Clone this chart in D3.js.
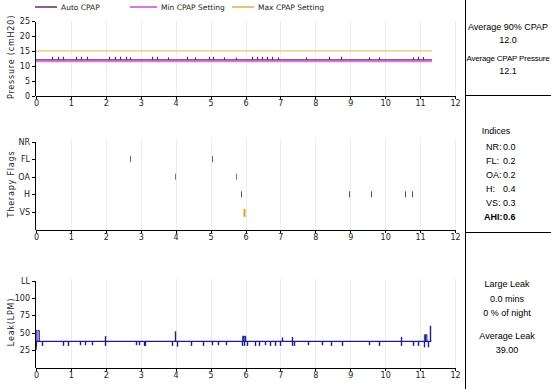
<!DOCTYPE html>
<html>
<head>
<meta charset="utf-8">
<script src="https://cdn.jsdelivr.net/npm/d3@7"></script>
<style>
  body { margin: 0; background: #fff; }
  svg { display: block; }
  .axis text { font-family: "DejaVu Sans", Verdana, sans-serif; font-size: 8px; fill: #222; }
  .axis path, .axis line { stroke: #000; shape-rendering: crispEdges; }
  .side { font-family: "Liberation Sans", Tahoma, sans-serif; font-size: 9px; fill: #000; }
</style>
</head>
<body>
<script>
// pressure panel
var pressureEnd = 11.34;
var autoBase = 12.0;
var minSetting = 11.7;
var maxSetting = 15.0;
var autoSpikeTimes = [0.45, 0.62, 0.77, 1.14, 1.28, 1.47, 2.10, 2.26, 2.41, 2.57, 2.69, 3.31, 3.46, 3.79,
    4.33, 4.55, 4.96, 5.06, 5.39, 5.72, 6.18, 6.32, 6.46, 6.61, 6.75, 6.93, 7.74, 8.38, 8.73, 9.54, 9.81,
    10.79, 10.95, 11.08];
var autoSpikeValues = [13, 13, 13, 13, 13, 13, 13, 13, 13, 13, 12.8, 13, 13, 12.8,
    13, 12.8, 13, 13, 12.8, 12.7, 13, 13, 13, 13, 13, 12.8, 12.8, 13, 13, 12.8, 12.8,
    12.8, 13, 12.9];

// therapy flags panel
var flagNames = ["VS", "H", "OA", "FL", "NR"];
var flagTimes = [2.69, 5.05, 3.98, 5.72, 5.87, 8.97, 9.59, 10.57, 10.76, 5.97];
var flagTypes = ["FL", "FL", "OA", "OA", "H", "H", "H", "H", "H", "VS"];
var flagColors = { NR: "#444", FL: "#b04a4a", OA: "#5c8a5c", H: "#4a4a9a", VS: "#e8a020" };

// leak panel
var leakEnd = 11.32;
var leakBase = 37.5;
var leakDipTimes = [0.16, 0.78, 0.92, 1.26, 1.40, 1.59, 1.99, 2.85, 2.95, 3.10, 3.13, 3.89, 4.03, 4.43, 4.79,
    5.05, 5.22, 5.43, 5.89, 5.96, 6.03, 6.27, 6.40, 6.56, 6.70, 6.85, 6.99, 7.33, 7.40, 7.78, 8.19,
    8.44, 8.76, 9.55, 9.83, 10.45, 10.81, 10.95, 11.10, 11.22];
var leakDipValues = [31, 31, 31, 32, 32, 32, 31, 32, 32, 31, 31, 31, 30, 31, 31,
    32, 32, 32, 31, 31, 31, 31, 31, 32, 31, 31, 31, 31, 31, 32, 32,
    31, 31, 32, 31, 31, 31, 31, 29, 29];
var leakSpikeTimes = [1.97, 3.98, 5.93, 5.99, 7.04, 7.33, 10.45, 11.15, 11.27];
var leakSpikeValues = [45, 52, 45, 45, 43, 44, 44, 47, 60];
var leakBoxStart = [0.0, 5.92, 11.12];
var leakBoxEnd = [0.1, 6.0, 11.2];
var leakBoxValues = [53, 45, 47];

var hourTicks = d3.range(0, 13);

var svg = d3.select("body").append("svg")
    .attr("width", 551)
    .attr("height", 389);

svg.append("rect").attr("width", 551).attr("height", 389).attr("fill", "#fff");

var x = d3.scaleLinear().domain([0, 12]).range([36, 455]);

function grid(y0, y1) {
    svg.append("g").selectAll("line")
        .data(hourTicks.slice(1))
        .enter().append("line")
        .attr("x1", function (d) { return Math.round(x(d)) + 0.5; })
        .attr("x2", function (d) { return Math.round(x(d)) + 0.5; })
        .attr("y1", y0)
        .attr("y2", y1)
        .attr("stroke", "#ececec");
}

function xAxis(yPos) {
    svg.append("g")
        .attr("class", "axis")
        .attr("transform", "translate(0," + yPos + ")")
        .call(d3.axisBottom(x).tickValues(hourTicks).tickSize(3).tickSizeOuter(0).tickPadding(2));
}

function yLabel(text, cy) {
    svg.append("text")
        .attr("transform", "translate(14," + cy + ") rotate(-90)")
        .attr("text-anchor", "middle")
        .style("font-family", "DejaVu Sans, Verdana, sans-serif")
        .style("font-size", "8px")
        .style("letter-spacing", "0.8px")
        .style("fill", "#222")
        .text(text);
}

// ---------- pressure ----------
var yP = d3.scaleLinear().domain([0, 25]).range([95.5, 21]);
grid(21, 95);

svg.append("line")
    .attr("x1", x(0)).attr("x2", x(pressureEnd))
    .attr("y1", yP(maxSetting)).attr("y2", yP(maxSetting))
    .attr("stroke", "#e8c27a").attr("stroke-width", 1.2);

svg.append("line")
    .attr("x1", x(0)).attr("x2", x(pressureEnd))
    .attr("y1", yP(minSetting)).attr("y2", yP(minSetting))
    .attr("stroke", "#d77ad7").attr("stroke-width", 3);

svg.append("line")
    .attr("x1", x(0)).attr("x2", x(pressureEnd))
    .attr("y1", yP(autoBase)).attr("y2", yP(autoBase))
    .attr("stroke", "#8a3a8a").attr("stroke-width", 1);

svg.append("g").selectAll("line")
    .data(autoSpikeTimes)
    .enter().append("line")
    .attr("x1", function (d) { return Math.round(x(d)) + 0.5; })
    .attr("x2", function (d) { return Math.round(x(d)) + 0.5; })
    .attr("y1", yP(autoBase))
    .attr("y2", function (d, i) { return yP(autoSpikeValues[i]); })
    .attr("stroke", "#5a2a5a").attr("stroke-width", 1.2);

svg.append("g")
    .attr("class", "axis")
    .attr("transform", "translate(35,0)")
    .call(d3.axisLeft(yP).tickValues([0, 5, 10, 15, 20, 25]).tickSize(3).tickSizeOuter(0).tickPadding(2));
xAxis(95.5);
yLabel("Pressure (cmH20)", 57);

// legend
var legendNames = ["Auto CPAP", "Min CPAP Setting", "Max CPAP Setting"];
var legendColors = ["#8e5c8e", "#e070e0", "#e8c27a"];
var legendX = [35, 130, 232];
var legendW = [22, 27, 22];
var lg = svg.append("g").selectAll("g")
    .data(legendNames)
    .enter().append("g")
    .attr("transform", function (d, i) { return "translate(" + legendX[i] + ",7)"; });
lg.append("line")
    .attr("x1", 0).attr("x2", function (d, i) { return legendW[i]; })
    .attr("stroke", function (d, i) { return legendColors[i]; })
    .attr("stroke-width", 2);
lg.append("text")
    .attr("x", function (d, i) { return legendW[i] + 4; })
    .attr("dy", "0.35em")
    .style("font-family", "DejaVu Sans, Verdana, sans-serif")
    .style("font-size", "7.5px")
    .style("fill", "#222")
    .text(function (d) { return d; });

// ---------- therapy flags ----------
var yF = d3.scaleLinear().domain([0, 5]).range([229.5, 141.5]);
grid(139, 229);

svg.append("g").selectAll("line")
    .data(flagTimes)
    .enter().append("line")
    .attr("x1", function (d) { return Math.round(x(d)) + 0.5; })
    .attr("x2", function (d) { return Math.round(x(d)) + 0.5; })
    .attr("y1", function (d, i) { return yF(flagNames.indexOf(flagTypes[i]) + 1) - 3; })
    .attr("y2", function (d, i) { return yF(flagNames.indexOf(flagTypes[i]) + 1) + (flagTypes[i] === "VS" ? 5 : 3); })
    .attr("stroke", function (d, i) { return flagColors[flagTypes[i]]; })
    .attr("stroke-width", function (d, i) { return flagTypes[i] === "VS" ? 2 : 1; });

svg.append("g")
    .attr("class", "axis")
    .attr("transform", "translate(35,0)")
    .call(d3.axisLeft(yF).tickValues([1, 2, 3, 4, 5])
        .tickFormat(function (d) { return flagNames[d - 1]; })
        .tickSize(3).tickSizeOuter(0).tickPadding(2));
xAxis(229.5);
yLabel("Therapy Flags", 184);

// ---------- leak ----------
var yL = d3.scaleLinear().domain([0, 125]).range([367.5, 280.5]);
grid(279, 367);

svg.append("g").selectAll("rect")
    .data(leakBoxStart)
    .enter().append("rect")
    .attr("x", function (d) { return x(d); })
    .attr("width", function (d, i) { return x(leakBoxEnd[i]) - x(d); })
    .attr("y", function (d, i) { return yL(leakBoxValues[i]); })
    .attr("height", function (d, i) { return yL(leakBase) - yL(leakBoxValues[i]); })
    .attr("fill", "#8a8ae0")
    .attr("stroke", "#2a2aa0")
    .attr("stroke-width", 0.8);

svg.append("path")
    .datum([[0, 25], [0.02, leakBase], [leakEnd, leakBase]])
    .attr("d", d3.line().x(function (d) { return x(d[0]); }).y(function (d) { return yL(d[1]); }))
    .attr("fill", "none")
    .attr("stroke", "#1c1c96")
    .attr("stroke-width", 1.2);

svg.append("g").selectAll("line")
    .data(leakDipTimes)
    .enter().append("line")
    .attr("x1", function (d) { return Math.round(x(d)) + 0.5; })
    .attr("x2", function (d) { return Math.round(x(d)) + 0.5; })
    .attr("y1", yL(leakBase))
    .attr("y2", function (d, i) { return yL(leakDipValues[i]); })
    .attr("stroke", "#1c1c96").attr("stroke-width", 1.4);

svg.append("g").selectAll("line")
    .data(leakSpikeTimes)
    .enter().append("line")
    .attr("x1", function (d) { return Math.round(x(d)) + 0.5; })
    .attr("x2", function (d) { return Math.round(x(d)) + 0.5; })
    .attr("y1", yL(leakBase))
    .attr("y2", function (d, i) { return yL(leakSpikeValues[i]); })
    .attr("stroke", "#1c1c96").attr("stroke-width", 1.4);

svg.append("g")
    .attr("class", "axis")
    .attr("transform", "translate(35,0)")
    .call(d3.axisLeft(yL).tickValues([25, 50, 75, 100, 125])
        .tickFormat(function (d) { return d === 125 ? "LL" : d; })
        .tickSize(3).tickSizeOuter(0).tickPadding(2));
xAxis(367.5);
yLabel("Leak(LPM)", 322);

// ---------- side panel ----------
svg.append("line").attr("x1", 465.5).attr("x2", 465.5).attr("y1", 0).attr("y2", 389)
    .attr("stroke", "#000").attr("stroke-width", 1);
svg.append("line").attr("x1", 465).attr("x2", 551).attr("y1", 95.5).attr("y2", 95.5)
    .attr("stroke", "#000").attr("stroke-width", 1);
svg.append("line").attr("x1", 465).attr("x2", 551).attr("y1", 232.5).attr("y2", 232.5)
    .attr("stroke", "#000").attr("stroke-width", 1);

var pressureText = ["Average 90% CPAP", "12.0", "Average CPAP Pressure", "12.1"];
var pressureTextY = [30, 43, 61, 74];
svg.append("g").selectAll("text")
    .data(pressureText)
    .enter().append("text")
    .attr("class", "side")
    .attr("x", 508)
    .attr("y", function (d, i) { return pressureTextY[i]; })
    .attr("text-anchor", "middle")
    .style("font-size", function (d, i) { return i === 2 ? "8px" : null; })
    .style("letter-spacing", function (d, i) { return i === 2 ? "-0.2px" : null; })
    .text(function (d) { return d; });

var indexNames = ["NR:", "FL:", "OA:", "H:", "VS:", "AHI:"];
var indexValues = ["0.0", "0.2", "0.2", "0.4", "0.3", "0.6"];
svg.append("text").attr("class", "side").attr("x", 496).attr("y", 134)
    .attr("text-anchor", "middle").text("Indices");
var ig = svg.append("g").selectAll("g")
    .data(indexNames)
    .enter().append("g")
    .attr("transform", function (d, i) { return "translate(0," + (150 + i * 13.9) + ")"; })
    .style("font-weight", function (d, i) { return i === 5 ? "bold" : null; });
ig.append("text").attr("class", "side")
    .attr("x", function (d, i) { return i === 5 ? 484 : 486; })
    .text(function (d) { return d; });
ig.append("text").attr("class", "side")
    .attr("x", 503)
    .text(function (d, i) { return indexValues[i]; });

var leakText = ["Large Leak", "0.0 mins", "0 % of night", "Average Leak", "39.00"];
var leakTextY = [287, 302, 316, 339, 353];
svg.append("g").selectAll("text")
    .data(leakText)
    .enter().append("text")
    .attr("class", "side")
    .attr("x", 507)
    .attr("y", function (d, i) { return leakTextY[i]; })
    .attr("text-anchor", "middle")
    .text(function (d) { return d; });
</script>
</body>
</html>
